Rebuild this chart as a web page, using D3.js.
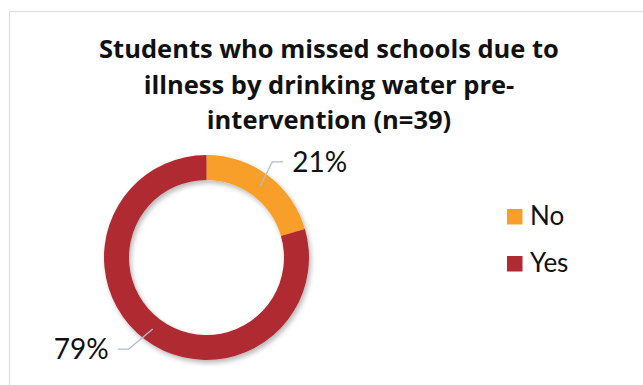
<!DOCTYPE html>
<html>
<head>
<meta charset="utf-8">
<script src="https://cdn.jsdelivr.net/npm/d3@7"></script>
<style>
  body { margin: 0; background: #fff; }
  svg { display: block; }
</style>
</head>
<body>
<div id="chart"></div>
<script>
// data (n = 39)
const categories = ['No', 'Yes'];
const counts = [8, 31];
const colors = ['#F89F2B', '#B02A32'];
const titleLines = ['Students who missed schools due to', 'illness by drinking water pre-', 'intervention (n=39)'];

const width = 643, height = 385;
const svg = d3.select('#chart').append('svg')
    .attr('width', width)
    .attr('height', height);

// drop shadow for the ring
const defs = svg.append('defs');
const shadow = defs.append('filter').attr('id', 'shadow')
    .attr('x', '-20%').attr('y', '-20%').attr('width', '140%').attr('height', '140%');
shadow.append('feDropShadow')
    .attr('dx', 2).attr('dy', 3).attr('stdDeviation', 2.5)
    .attr('flood-color', '#000').attr('flood-opacity', 0.28);

// chart frame
svg.append('rect')
    .attr('x', 9.5).attr('y', 11.5)
    .attr('width', 700).attr('height', 500)
    .attr('fill', 'none')
    .attr('stroke', '#D9DEE6')
    .attr('stroke-width', 1.2);

// title
svg.append('text')
    .attr('x', 329).attr('y', 58)
    .attr('text-anchor', 'middle')
    .style('font-family', '"Open Sans", sans-serif')
    .style('font-weight', '700')
    .style('font-size', '25.5px')
    .attr('fill', '#111')
    .selectAll('tspan')
    .data(titleLines)
    .join('tspan')
    .attr('x', 329)
    .attr('dy', (d, i) => i === 0 ? 0 : 35.5)
    .text(d => d);

// donut
const cx = 206.5, cy = 257.5;
const outerR = 102.5, innerR = 77.5;
const total = d3.sum(counts);
const pie = d3.pie().sort(null)(counts);
const arc = d3.arc().innerRadius(innerR).outerRadius(outerR);

const g = svg.append('g').attr('transform', `translate(${cx},${cy})`);
g.append('g').attr('filter', 'url(#shadow)')
    .selectAll('path')
    .data(pie)
    .join('path')
    .attr('d', arc)
    .attr('fill', (d, i) => colors[i]);

// data labels with leader lines
const labelArc = d3.arc().innerRadius(innerR + 12).outerRadius(innerR + 12);
const labels = [
    { dx: 12, dy: -24, hx: 11, anchor: 'start' },
    { dx: -24, dy: 20, hx: -11, anchor: 'end' }
];
pie.forEach((d, i) => {
    const p = labelArc.centroid(d);
    const L = labels[i];
    const elbow = [p[0] + L.dx, p[1] + L.dy];
    const end = [elbow[0] + L.hx, elbow[1]];
    g.append('polyline')
        .attr('points', [p, elbow, end].map(q => q.join(',')).join(' '))
        .attr('fill', 'none')
        .attr('stroke', '#AFBDCC')
        .attr('stroke-width', 1.3);
    g.append('text')
        .attr('x', end[0] + (L.anchor === 'start' ? 9 : -9))
        .attr('y', end[1] + 10)
        .attr('text-anchor', L.anchor)
        .style('font-family', 'Lato, sans-serif')
        .style('font-size', '28px')
        .attr('fill', '#111')
        .text(Math.round(counts[i] / total * 100) + '%');
});

// legend
const legend = svg.append('g').attr('transform', 'translate(507,209)');
const item = legend.selectAll('g')
    .data(categories)
    .join('g')
    .attr('transform', (d, i) => `translate(0,${i * 47})`);
item.append('rect')
    .attr('width', 15.5).attr('height', 15.5)
    .attr('fill', (d, i) => colors[i]);
item.append('text')
    .attr('x', 23).attr('y', 16)
    .style('font-family', 'Lato, sans-serif')
    .style('font-size', '26px')
    .attr('fill', '#111')
    .text(d => d);
</script>
</body>
</html>
